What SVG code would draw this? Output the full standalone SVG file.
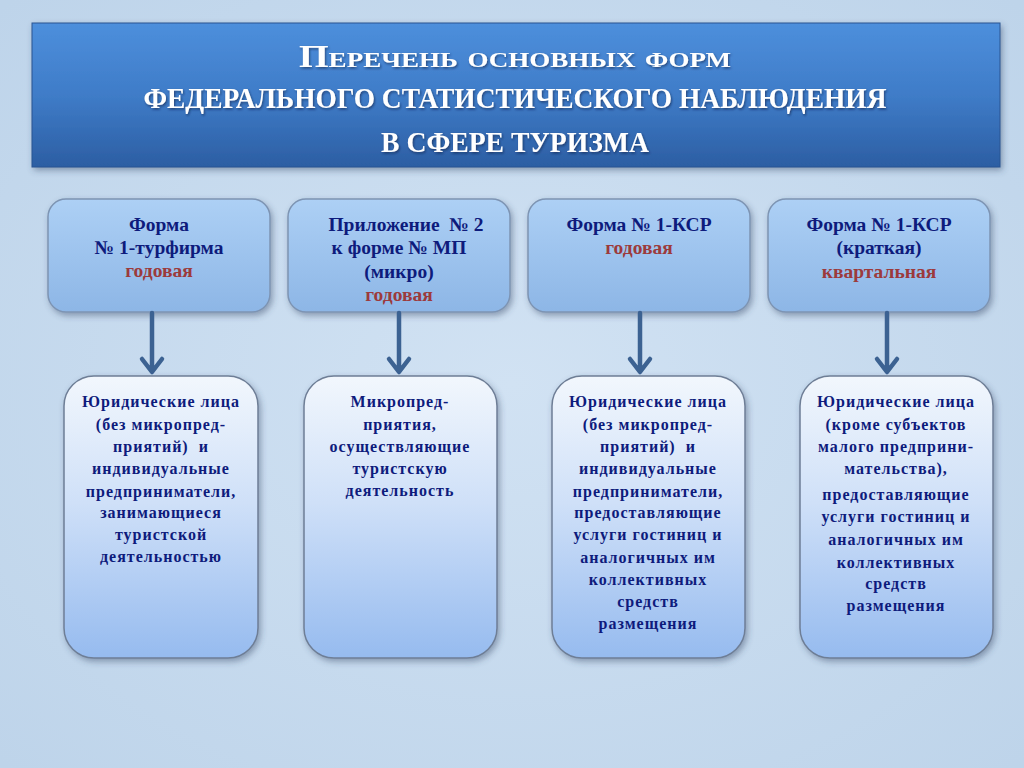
<svg xmlns="http://www.w3.org/2000/svg" width="1024" height="768" viewBox="0 0 1024 768">
<defs>
<radialGradient id="bg" cx="50%" cy="50%" r="70%">
<stop offset="0" stop-color="#d1e2f3"/>
<stop offset="1" stop-color="#bed4ea"/>
</radialGradient>
<linearGradient id="titleG" x1="0" y1="0" x2="0" y2="1">
<stop offset="0" stop-color="#4d8fdc"/>
<stop offset="0.5" stop-color="#3f7cc8"/>
<stop offset="1" stop-color="#2c5ea3"/>
</linearGradient>
<linearGradient id="topG" x1="0" y1="0" x2="0" y2="1">
<stop offset="0" stop-color="#add0f5"/>
<stop offset="1" stop-color="#8db6e6"/>
</linearGradient>
<linearGradient id="botG" x1="0" y1="0" x2="0" y2="1">
<stop offset="0" stop-color="#f2f7fd"/>
<stop offset="0.45" stop-color="#cfe0f8"/>
<stop offset="1" stop-color="#96bbef"/>
</linearGradient>
<filter id="sh" x="-10%" y="-10%" width="125%" height="130%">
<feDropShadow dx="2" dy="3" stdDeviation="3" flood-color="#334466" flood-opacity="0.45"/>
</filter>
<filter id="tsh" x="-5%" y="-20%" width="110%" height="150%">
<feDropShadow dx="1" dy="1.5" stdDeviation="1" flood-color="#102040" flood-opacity="0.6"/>
</filter>
</defs>
<style>
.title{font-family:"Liberation Serif","DejaVu Serif",serif;font-weight:bold;fill:#ffffff;text-anchor:middle}
.top{fill:url(#topG);stroke:#7d94b3;stroke-width:1.5}
.bot{fill:url(#botG);stroke:#6e7e96;stroke-width:1.5}
.t{font-family:"Liberation Serif","DejaVu Serif",serif;font-weight:bold;font-size:19.5px;fill:#0e1b7c;text-anchor:middle}
.r{fill:#9c3a3c}
.b{font-family:"Liberation Serif","DejaVu Serif",serif;font-weight:bold;font-size:16px;fill:#0e1b7c;text-anchor:middle;letter-spacing:1px}
.arr{stroke:#3c6292;stroke-width:4.5;fill:none;stroke-linecap:round;stroke-linejoin:round}
</style>
<rect width="1024" height="768" fill="url(#bg)"/>

<g id="title">
<rect x="32" y="23" width="968" height="144" fill="url(#titleG)" stroke="#2a5592" stroke-width="1" filter="url(#sh)"/>
<g filter="url(#tsh)">
<text class="title" x="515" y="67" font-size="31" font-variant="small-caps" textLength="432" lengthAdjust="spacingAndGlyphs">Перечень основных форм</text>
<text class="title" x="515" y="108" font-size="29.5" textLength="743" lengthAdjust="spacingAndGlyphs">ФЕДЕРАЛЬНОГО СТАТИСТИЧЕСКОГО НАБЛЮДЕНИЯ</text>
<text class="title" x="515" y="152" font-size="30" textLength="268" lengthAdjust="spacingAndGlyphs">В СФЕРЕ ТУРИЗМА</text>
</g>
</g>

<g id="form1">
<rect class="top" x="48" y="199" width="222" height="113" rx="18" filter="url(#sh)"/>
<text class="t" x="159" y="231">Форма</text>
<text class="t" x="159" y="254">№ 1-турфирма</text>
<text class="t r" x="159" y="277">годовая</text>
</g>
<g id="form2">
<rect class="top" x="288" y="199" width="222" height="113" rx="18" filter="url(#sh)"/>
<text class="t" x="406" y="231" xml:space="preserve">Приложение  № 2</text>
<text class="t" x="399" y="254">к форме № МП</text>
<text class="t" x="399" y="278">(микро)</text>
<text class="t r" x="399" y="301">годовая</text>
</g>
<g id="form3">
<rect class="top" x="528" y="199" width="222" height="113" rx="18" filter="url(#sh)"/>
<text class="t" x="639" y="231">Форма № 1-КСР</text>
<text class="t r" x="639" y="254">годовая</text>
</g>
<g id="form4">
<rect class="top" x="768" y="199" width="222" height="113" rx="18" filter="url(#sh)"/>
<text class="t" x="879" y="231">Форма № 1-КСР</text>
<text class="t" x="879" y="254">(краткая)</text>
<text class="t r" x="879" y="278">квартальная</text>
</g>

<g id="connectors">
<path class="arr" d="M152 313 V371 M142 359 L152 372 L162 359"/>
<path class="arr" d="M399 313 V371 M389 359 L399 372 L409 359"/>
<path class="arr" d="M640 313 V371 M630 359 L640 372 L650 359"/>
<path class="arr" d="M887 313 V371 M877 359 L887 372 L897 359"/>
</g>

<g id="subj1">
<rect class="bot" x="64" y="376" width="194" height="282" rx="30" filter="url(#sh)"/>
<text class="b" x="161" y="407">Юридические лица</text>
<text class="b" x="161" y="430">(без микропред-</text>
<text class="b" x="161" y="452" xml:space="preserve">приятий)  и</text>
<text class="b" x="161" y="474">индивидуальные</text>
<text class="b" x="161" y="497">предприниматели,</text>
<text class="b" x="161" y="518">занимающиеся</text>
<text class="b" x="161" y="540">туристской</text>
<text class="b" x="161" y="562">деятельностью</text>
</g>
<g id="subj2">
<rect class="bot" x="304" y="376" width="193" height="282" rx="30" filter="url(#sh)"/>
<text class="b" x="400" y="407">Микропред-</text>
<text class="b" x="400" y="430">приятия,</text>
<text class="b" x="400" y="452">осуществляющие</text>
<text class="b" x="400" y="474">туристскую</text>
<text class="b" x="400" y="496">деятельность</text>
</g>
<g id="subj3">
<rect class="bot" x="552" y="376" width="193" height="282" rx="30" filter="url(#sh)"/>
<text class="b" x="648" y="407">Юридические лица</text>
<text class="b" x="648" y="430">(без микропред-</text>
<text class="b" x="648" y="452" xml:space="preserve">приятий)  и</text>
<text class="b" x="648" y="474">индивидуальные</text>
<text class="b" x="648" y="497">предприниматели,</text>
<text class="b" x="648" y="518">предоставляющие</text>
<text class="b" x="648" y="540">услуги гостиниц и</text>
<text class="b" x="648" y="563">аналогичных им</text>
<text class="b" x="648" y="585">коллективных</text>
<text class="b" x="648" y="607">средств</text>
<text class="b" x="648" y="629">размещения</text>
</g>
<g id="subj4">
<rect class="bot" x="800" y="376" width="193" height="282" rx="30" filter="url(#sh)"/>
<text class="b" x="896" y="407">Юридические лица</text>
<text class="b" x="896" y="430">(кроме субъектов</text>
<text class="b" x="896" y="452">малого предприни-</text>
<text class="b" x="896" y="474">мательства),</text>
<text class="b" x="896" y="500">предоставляющие</text>
<text class="b" x="896" y="522">услуги гостиниц и</text>
<text class="b" x="896" y="545">аналогичных им</text>
<text class="b" x="896" y="568">коллективных</text>
<text class="b" x="896" y="589">средств</text>
<text class="b" x="896" y="611">размещения</text>
</g>
</svg>
